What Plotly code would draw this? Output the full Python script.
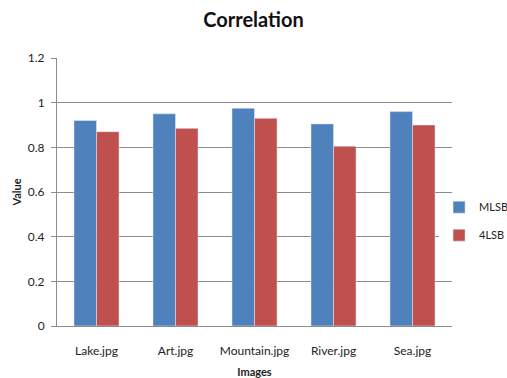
import plotly.graph_objects as go

# Correlation of stego images against the originals
images = ["Lake.jpg", "Art.jpg", "Mountain.jpg", "River.jpg", "Sea.jpg"]
mlsb = [0.92, 0.95, 0.975, 0.905, 0.96]
lsb4 = [0.87, 0.885, 0.93, 0.805, 0.9]
y_ticks = [0, 0.2, 0.4, 0.6, 0.8, 1, 1.2]

font = "Lato, 'Open Sans', sans-serif"

fig = go.Figure()
fig.add_trace(go.Bar(x=images, y=mlsb, name="MLSB", legendgroup="a",
                     marker_color="#4F81BD"))
fig.add_trace(go.Bar(x=images, y=lsb4, name="4LSB", legendgroup="b",
                     marker_color="#C0504D"))

fig.update_layout(
    width=507, height=378,
    margin=dict(l=57, r=55, t=58, b=52, autoexpand=False),
    paper_bgcolor="white", plot_bgcolor="white",
    barmode="group", bargap=0.43, bargroupgap=0,
    font=dict(family=font, size=12, color="#222"),
    title=dict(text="<b>Correlation</b>", x=0.5, xanchor="center",
               y=0.965, yanchor="top", font=dict(size=20, color="#111")),
    legend=dict(xref="container", yref="container",
                x=0.866, y=0.415, xanchor="left", yanchor="middle",
                font=dict(size=11), tracegroupgap=9, itemwidth=30),
    showlegend=True,
)
fig.update_yaxes(
    range=[0, 1.2], tickvals=y_ticks, ticktext=[str(v) for v in y_ticks],
    showgrid=True, gridcolor="#8c8c8c", gridwidth=1,
    showline=True, linecolor="#8c8c8c", linewidth=1,
    ticks="outside", ticklen=5, tickcolor="#8c8c8c", ticklabelstandoff=4,
    zeroline=False, tickfont=dict(size=12), automargin=False,
    title=dict(text="<b>Value</b>", font=dict(size=11), standoff=3),
)
fig.update_xaxes(
    showline=True, linecolor="#8c8c8c", linewidth=1, automargin=False,
    ticks="", tickfont=dict(size=12), ticklabelstandoff=14,
    title=dict(text="<b>Images</b>", font=dict(size=11), standoff=10),
)

fig.write_html("out.html")
